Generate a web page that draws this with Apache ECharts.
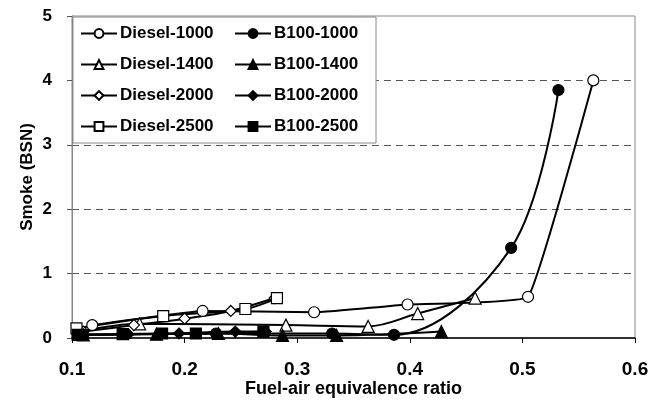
<!DOCTYPE html>
<html><head><meta charset="utf-8">
<script src="https://cdn.jsdelivr.net/npm/echarts@6/dist/echarts.min.js"></script>
<style>html,body{margin:0;padding:0;background:#fff}#c{width:663px;height:403px}</style>
</head><body><div id="c"></div>
<script>
// ---- data ----
const xTicks = [0.1, 0.2, 0.3, 0.4, 0.5, 0.6];
const yTicks = [0, 1, 2, 3, 4, 5];
const diesel1000 = [[0.118,0.2],[0.216,0.42],[0.315,0.4],[0.398,0.52],[0.505,0.64],[0.563,4.0]];
const b1001000   = [[0.11,0.05],[0.228,0.07],[0.331,0.07],[0.386,0.05],[0.49,1.4],[0.532,3.85]];
const diesel1400 = [[0.108,0.1],[0.16,0.22],[0.29,0.2],[0.363,0.18],[0.407,0.38],[0.458,0.62]];
const b1001400   = [[0.11,0.05],[0.175,0.06],[0.23,0.07],[0.287,0.04],[0.335,0.04],[0.428,0.1]];
const diesel2000 = [[0.11,0.1],[0.155,0.2],[0.2,0.3],[0.241,0.42],[0.28,0.62]];
const b1002000   = [[0.108,0.05],[0.15,0.06],[0.195,0.07],[0.245,0.1],[0.272,0.1]];
const diesel2500 = [[0.104,0.15],[0.181,0.34],[0.254,0.45],[0.282,0.62]];
const b1002500   = [[0.105,0.05],[0.145,0.06],[0.18,0.07],[0.21,0.07],[0.27,0.1]];

const names = ['Diesel-1000','Diesel-1400','Diesel-2000','Diesel-2500','B100-1000','B100-1400','B100-2000','B100-2500'];
const datas = [diesel1000, diesel1400, diesel2000, diesel2500, b1001000, b1001400, b1002000, b1002500];
const symbols = ['circle','triangle','diamond','rect','circle','triangle','diamond','rect'];
const sizes = [11, 12, 11, 11, 11, 12, 11, 11];
const smooths = [0.08, 0.35, 0.35, 0.35, 0.35, 0.35, 0.35, 0.35];

const FONT = 'Liberation Sans, Arial, sans-serif';
const series = names.map((n, i) => ({
  name: n, type: 'line', data: datas[i], smooth: smooths[i],
  symbol: symbols[i], symbolSize: sizes[i],
  lineStyle: { color: '#000', width: 2 },
  itemStyle: { color: i < 4 ? '#fff' : '#000', borderColor: '#000', borderWidth: 1.2 },
  z: 3
}));

const legendCommon = {
  orient: 'vertical', itemWidth: 36, itemHeight: 11, itemGap: 14,
  textStyle: { fontFamily: FONT, fontWeight: 'bold', fontSize: 17, color: '#000', padding: [0,0,0,-2] },
  padding: 0, z: 20, selectedMode: false
};

const chart = echarts.init(document.getElementById('c'), null, { renderer: 'canvas' });
chart.setOption({
  animation: false,
  backgroundColor: '#fff',
  grid: { left: 72, right: 28, top: 16, bottom: 65, show: true, borderColor: '#888', borderWidth: 1,
    containLabel: false, outerBoundsMode: 'none' },
  graphic: [{ type: 'rect', shape: { x: 73, y: 17, width: 303, height: 126 },
    style: { fill: '#fff', stroke: '#888', lineWidth: 1 }, z: 10 }],
  legend: [
    Object.assign({ left: 80, top: 25, data: names.slice(0, 4) }, legendCommon),
    Object.assign({ left: 234, top: 25, data: names.slice(4) }, legendCommon)
  ],
  xAxis: {
    type: 'value', min: xTicks[0], max: xTicks[xTicks.length - 1], interval: 0.1,
    name: 'Fuel-air equivalence ratio', nameLocation: 'middle', nameGap: 42, nameMoveOverlap: false,
    nameTextStyle: { fontFamily: FONT, fontWeight: 'bold', fontSize: 18, color: '#000' },
    axisLine: { lineStyle: { color: '#000', width: 1.5 } },
    axisTick: { show: true, length: 5, lineStyle: { color: '#000' } },
    axisLabel: { fontFamily: FONT, fontWeight: 'bold', fontSize: 19, color: '#000', margin: 22,
      formatter: v => v.toFixed(1) },
    splitLine: { show: false }
  },
  yAxis: {
    type: 'value', min: yTicks[0], max: yTicks[yTicks.length - 1], interval: 1,
    name: 'Smoke (BSN)', nameLocation: 'middle', nameGap: 36, nameMoveOverlap: false,
    nameTextStyle: { fontFamily: FONT, fontWeight: 'bold', fontSize: 17, color: '#000' },
    axisLine: { show: true, lineStyle: { color: '#888', width: 1 } },
    axisTick: { show: true, length: 5, lineStyle: { color: '#555' } },
    axisLabel: { fontFamily: FONT, fontWeight: 'bold', fontSize: 17, color: '#000', margin: 20 },
    splitLine: { show: true, lineStyle: { type: [7, 5], width: 1.2,
      color: ['transparent', '#555', '#555', '#555', '#555', 'transparent'] } }
  },
  series: series
});
</script></body></html>
